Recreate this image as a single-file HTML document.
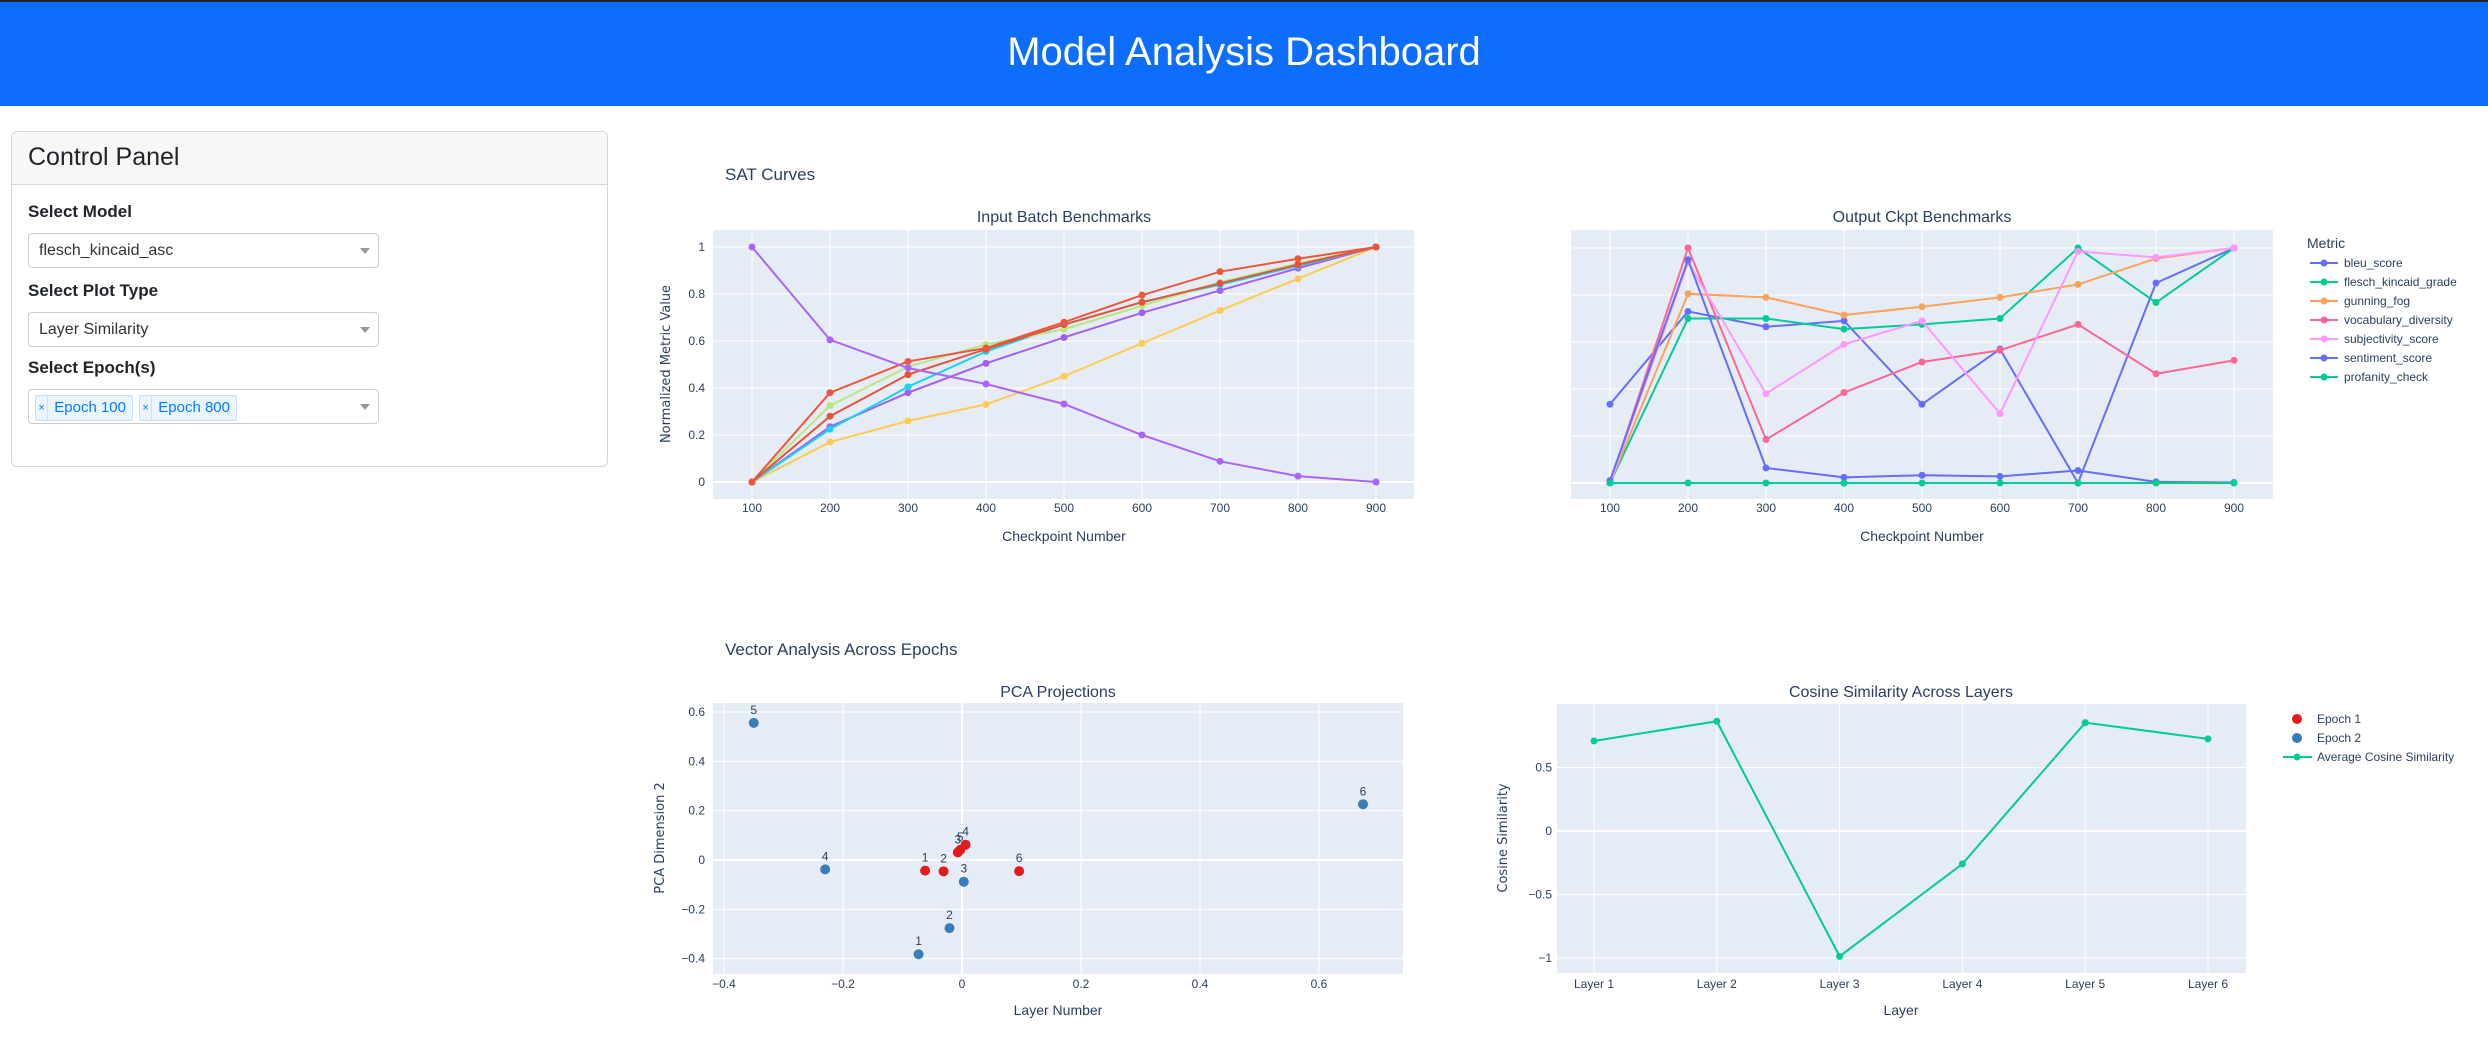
<!DOCTYPE html>
<html><head><meta charset="utf-8"><style>
*{box-sizing:border-box;margin:0;padding:0}
body{width:2488px;height:1050px;overflow:hidden;background:#fff;font-family:"Liberation Sans",sans-serif;position:relative}
#topbar{position:absolute;left:0;top:0;width:2488px;height:2px;background:#222}
#header{position:absolute;left:0;top:2px;width:2488px;height:104px;background:#0d6efd;color:#fff;text-align:center;font-size:40px;line-height:100px}
#card{position:absolute;left:11px;top:131px;width:597px;height:336px;border:1px solid #d6d6d6;border-radius:6px;overflow:hidden}
#card-head{height:53px;background:#f7f7f7;border-bottom:1px solid #d6d6d6;font-size:25px;padding-left:16px;line-height:50px;color:#212529}
.lbl{position:absolute;left:16px;font-weight:bold;font-size:17px;color:#212529}
.dd{position:absolute;left:16px;width:351px;height:35px;border:1px solid #ccc;border-radius:4px;font-size:16px;color:#333;padding-left:10px;line-height:33px;white-space:nowrap}
.arrow{position:absolute;right:8px;top:14px;width:0;height:0;border-left:5px solid transparent;border-right:5px solid transparent;border-top:6px solid #999}
.tag{position:absolute;top:5px;height:26px;border:1px solid #c2e0ff;background:#ebf5ff;color:#007eff;border-radius:2px;font-size:15px;line-height:24px;white-space:nowrap;display:flex}
.tag .x{display:inline-block;width:18px;text-align:center;border-right:1px solid #c2e0ff;font-size:11px}
.tag .t{padding:0 6px;display:inline-block}
svg{position:absolute;left:0;top:0}
</style></head><body>
<div id="topbar"></div>
<div id="header">Model Analysis Dashboard</div>
<div id="card">
 <div id="card-head">Control Panel</div>
 <div class="lbl" style="top:70px">Select Model</div>
 <div class="dd" style="top:101px">flesch_kincaid_asc<div class="arrow"></div></div>
 <div class="lbl" style="top:149px">Select Plot Type</div>
 <div class="dd" style="top:180px">Layer Similarity<div class="arrow"></div></div>
 <div class="lbl" style="top:226px">Select Epoch(s)</div>
 <div class="dd" style="top:257px;padding-left:0">
  <div class="tag" style="left:6px;width:98px"><span class="x">×</span><span class="t">Epoch 100</span></div>
  <div class="tag" style="left:110px;width:98px"><span class="x">×</span><span class="t">Epoch 800</span></div>
  <div class="arrow"></div>
 </div>
</div>
<svg id="charts" width="2488" height="1050" xmlns="http://www.w3.org/2000/svg"></svg>
<script>
// ---- Data ----
const checkpoints = [100,200,300,400,500,600,700,800,900];
const inputSeriesColors = ["#AB63FA","#EF553B","#E8513A","#B6E880","#19D3F3","#A05EF5","#FECB52"];
const inputDecreasing = [1,0.605,0.485,0.417,0.332,0.2,0.088,0.025,0];
const inputRedTop = [0,0.38,0.513,0.57,0.68,0.795,0.895,0.95,1];
const inputRedSecond = [0,0.28,0.457,0.565,0.67,0.765,0.845,0.925,1];
const inputGreen = [0,0.325,0.49,0.585,0.65,0.75,0.85,0.93,1];
const inputCyan = [0,0.225,0.405,0.555,0.67,0.765,0.84,0.92,1];
const inputPurple = [0,0.235,0.38,0.505,0.615,0.72,0.815,0.91,1];
const inputYellow = [0,0.17,0.26,0.33,0.45,0.59,0.73,0.865,1];
const yTicks01 = [0,0.2,0.4,0.6,0.8,1];
const yTickLabels01 = ["0","0.2","0.4","0.6","0.8","1"];

const metricNames = ["bleu_score","flesch_kincaid_grade","gunning_fog","vocabulary_diversity","subjectivity_score","sentiment_score","profanity_check"];
const metricColors = ["#636EFA","#00CC96","#FFA15A","#FF6692","#FF97FF","#636EFA","#00CC96"];
const bleuScore = [0.335,0.73,0.665,0.69,0.335,0.57,0,0.851,1];
const fleschGrade = [0,0.7,0.7,0.655,0.675,0.7,1,0.768,1];
const gunningFog = [0,0.805,0.79,0.715,0.75,0.79,0.845,0.955,1];
const vocabDiversity = [0,1,0.185,0.385,0.515,0.565,0.675,0.465,0.522];
const subjectivity = [0,0.94,0.38,0.59,0.69,0.295,0.985,0.96,1];
const sentimentScore = [0.01,0.95,0.064,0.024,0.033,0.028,0.053,0.005,0.002];
const profanityCheck = [0,0,0,0,0,0,0,0,0];

const pcaLabels = ["1","2","3","4","5","6"];
const epoch1X = [-0.062,-0.031,-0.007,0.006,-0.003,0.096];
const epoch1Y = [-0.043,-0.046,0.031,0.062,0.041,-0.045];
const epoch2X = [-0.073,-0.021,0.003,-0.23,-0.35,0.674];
const epoch2Y = [-0.382,-0.276,-0.088,-0.038,0.556,0.226];
const pcaTicks = [-0.4,-0.2,0,0.2,0.4,0.6];
const pcaTickLabels = ["−0.4","−0.2","0","0.2","0.4","0.6"];

const layers = ["Layer 1","Layer 2","Layer 3","Layer 4","Layer 5","Layer 6"];
const cosineValues = [0.709,0.864,-0.987,-0.259,0.853,0.725];
const cosTicks = [-1,-0.5,0,0.5];
const cosTickLabels = ["−1","−0.5","0","0.5"];

// ---- Drawing ----
const NS="http://www.w3.org/2000/svg";
const svg=document.getElementById('charts');
function mk(tag,attrs,parent){const e=document.createElementNS(NS,tag);for(const k in attrs)e.setAttribute(k,attrs[k]);(parent||svg).appendChild(e);return e;}
function txt(x,y,s,size,anchor,extra){const e=mk('text',Object.assign({x:x,y:y,'font-size':size,'text-anchor':anchor||'middle',fill:'#2a3f5f','font-family':'Liberation Sans, sans-serif'},extra||{}));e.textContent=s;return e;}
function lin(d0,d1,r0,r1){return v=>r0+(v-d0)*(r1-r0)/(d1-d0);}

let t=txt(725,180,"SAT Curves",17,'start');

t=txt(725,655,"Vector Analysis Across Epochs",17,'start');


function panel(x0,x1,y0,y1,name){const r=mk('rect',{x:x0,y:y0,width:x1-x0,height:y1-y0,fill:'#E5ECF6'});
return r;}
function vgrid(x,y0,y1,w){mk('line',{x1:x,x2:x,y1:y0,y2:y1,stroke:'#fff','stroke-width':w||1});}
function hgrid(y,x0,x1,w){mk('line',{x1:x0,x2:x1,y1:y,y2:y,stroke:'#fff','stroke-width':w||1});}

function drawLine(xs,ys,X,Y,color,name){
 const pts=xs.map((v,i)=>X(v)+','+Y(ys[i])).join(' ');
 const pl=mk('polyline',{points:pts,fill:'none',stroke:color,'stroke-width':2});
 
 xs.forEach((v,i)=>{const c=mk('circle',{cx:X(v),cy:Y(ys[i]),r:3.5,fill:color});
 });
}

// Chart 1
{
 const X=lin(100,900,752,1376), Y=lin(0,1,482,247);
 panel(713,1414,230,499,'input-batch-plot-area');
 checkpoints.forEach(c=>vgrid(X(c),230,499));
 yTicks01.forEach((v,i)=>{hgrid(Y(v),713,1414,v===0?2:1);
  const l=txt(705,Y(v)+4,yTickLabels01[i],12,'end');});
 checkpoints.forEach(c=>{const l=txt(X(c),512,String(c),12);});
 const series=[inputDecreasing,inputRedTop,inputRedSecond,inputGreen,inputCyan,inputPurple,inputYellow];
 const order=[6,5,4,3,2,1,0];
 order.forEach(i=>drawLine(checkpoints,series[i],X,Y,inputSeriesColors[i],'input-series-'+i));
 t=txt(1064,222,"Input Batch Benchmarks",16);
 t=txt(1064,541,"Checkpoint Number",14);
 t=txt(0,0,"Normalized Metric Value",13,'middle',{transform:'translate(670,364) rotate(-90)','font-family':'DejaVu Sans, sans-serif'});
 
}
// Chart 2
{
 const X=lin(100,900,1610,2234), Y=lin(0,1,483,248);
 panel(1571,2273,230,499,'output-ckpt-plot-area');
 checkpoints.forEach(c=>vgrid(X(c),230,499));
 yTicks01.forEach(v=>hgrid(Y(v),1571,2273,v===0?2:1));
 checkpoints.forEach(c=>{const l=txt(X(c),512,String(c),12);});
 const series=[bleuScore,fleschGrade,gunningFog,vocabDiversity,subjectivity,sentimentScore,profanityCheck];
 series.forEach((s,i)=>drawLine(checkpoints,s,X,Y,metricColors[i],metricNames[i]));
 t=txt(1922,222,"Output Ckpt Benchmarks",16);
 t=txt(1922,541,"Checkpoint Number",14);
 t=txt(2307,248,"Metric",14,'start');
 metricNames.forEach((n,i)=>{const y=263+i*19;
  const g=mk('g',{});
  mk('line',{x1:2310,x2:2338,y1:y,y2:y,stroke:metricColors[i],'stroke-width':2},g);
  mk('circle',{cx:2324,cy:y,r:3.5,fill:metricColors[i]},g);
  const l=txt(2344,y+4,n,12,'start');g.appendChild(l);});
}
// Chart 3 PCA
{
 const X=lin(-0.4,0.6,724,1319), Y=lin(0,0.6,860,712);
 panel(713,1403,703,974,'pca-plot-area');
 pcaTicks.forEach((v,i)=>{vgrid(X(v),703,974,v===0?2:1);hgrid(Y(v),713,1403,v===0?2:1);
  let l=txt(X(v),988,pcaTickLabels[i],12);
  l=txt(705,Y(v)+4,pcaTickLabels[i],12,'end');});
 [[epoch2X,epoch2Y,'#377EB8','epoch-2'],[epoch1X,epoch1Y,'#E41A1C','epoch-1']].forEach(([xs,ys,col,nm])=>{
  xs.forEach((v,i)=>{const c=mk('circle',{cx:X(v),cy:Y(ys[i]),r:5,fill:col});
   
   const l=txt(X(v),Y(ys[i])-9,pcaLabels[i],12);});});
 t=txt(1058,697,"PCA Projections",16);
 t=txt(1058,1015,"Layer Number",14);
 t=txt(0,0,"PCA Dimension 2",13,'middle',{transform:'translate(664,838) rotate(-90)','font-family':'DejaVu Sans, sans-serif'});
 
}
// Chart 4 cosine
{
 const X=i=>1594+i*(2208-1594)/5, Y=lin(0,-1,831,958);
 panel(1557,2246,704,973,'cosine-plot-area');
 layers.forEach((n,i)=>{vgrid(X(i),704,973);
  const l=txt(X(i),988,n,12);});
 cosTicks.forEach((v,i)=>{hgrid(Y(v),1557,2246,v===0?2:1);
  const l=txt(1552,Y(v)+4,cosTickLabels[i],12,'end');});
 drawLine(layers.map((_,i)=>i),cosineValues,X,Y,'#00CC96','avg-cosine');
 t=txt(1901,697,"Cosine Similarity Across Layers",16);
 t=txt(1901,1015,"Layer",14);
 t=txt(0,0,"Cosine Similarity",13,'middle',{transform:'translate(1507,838) rotate(-90)','font-family':'DejaVu Sans, sans-serif'});
 
 const lg=[["Epoch 1","#E41A1C",719,'m'],["Epoch 2","#377EB8",738,'m'],["Average Cosine Similarity","#00CC96",757,'l']];
 lg.forEach(([n,c,y,k])=>{const g=mk('g',{});
  
  if(k==='l'){mk('line',{x1:2283,x2:2312,y1:y,y2:y,stroke:c,'stroke-width':2},g);mk('circle',{cx:2297,cy:y,r:3.5,fill:c},g);}
  else mk('circle',{cx:2297,cy:y,r:5,fill:c},g);
  g.appendChild(txt(2317,y+4,n,12,'start'));});
}
</script>
</body></html>
